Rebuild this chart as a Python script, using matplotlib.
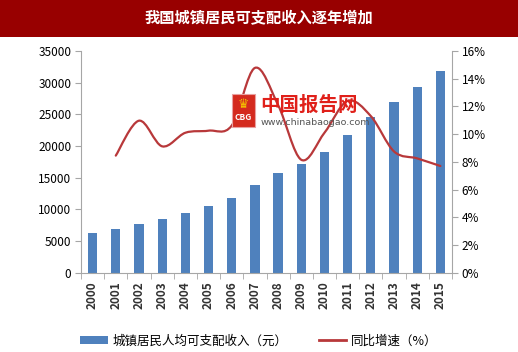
import matplotlib
matplotlib.use("Agg")
import matplotlib.pyplot as plt
from matplotlib.path import Path
from matplotlib.patches import PathPatch, Rectangle, Patch
from matplotlib.lines import Line2D
import numpy as np

plt.rcParams['font.family'] = ['Noto Sans CJK SC', 'DejaVu Sans']

title = "我国城镇居民可支配收入逐年增加"
years = ["2000", "2001", "2002", "2003", "2004", "2005", "2006", "2007",
         "2008", "2009", "2010", "2011", "2012", "2013", "2014", "2015"]
income = [6280, 6860, 7703, 8472, 9422, 10493, 11759, 13786,
          15781, 17175, 19109, 21810, 24565, 26955, 29381, 31790]
growth_years = years[1:]
growth = [8.45, 10.97, 9.12, 10.1, 10.25, 10.62, 14.78,
          12.1, 8.15, 10.1, 12.4, 11.3, 8.75, 8.25, 7.7]
bar_label = "城镇居民人均可支配收入（元）"
line_label = "同比增速（%）"

BLUE = "#4F81BD"
RED = "#B8383A"
GREY = "#A6A6A6"

fig = plt.figure(figsize=(5.18, 3.52), dpi=100)
# title bar
fig.patches.append(Rectangle((0, 1 - 37 / 352), 1, 37 / 352, transform=fig.transFigure,
                             facecolor="#980000", edgecolor="none", zorder=0))
fig.text(0.5, 1 - 18.5 / 352, title, color="white", fontsize=11, fontweight="bold",
         ha="center", va="center")

ax = fig.add_axes([81 / 518, 1 - 272.7 / 352, (452 - 81) / 518, (272.7 - 51) / 352])
x = np.arange(len(years))
ax.bar(x, income, width=0.4, color=BLUE, zorder=2)
ax.set_xlim(-0.5, len(years) - 0.5)
ax.set_ylim(0, 35000)
ax.set_yticks(np.arange(0, 35001, 5000))
ax.set_yticklabels([str(v) for v in range(0, 35001, 5000)], fontsize=8.5)
ax.set_xticks(x)
ax.set_xticklabels(years, rotation=90, fontsize=8.5, fontweight="bold", color="#333333")
ax.set_xticks(np.arange(-0.5, len(years), 1), minor=True)
ax.tick_params(axis="x", which="major", length=0, pad=6)
ax.tick_params(axis="x", which="minor", length=4, color=GREY, direction="out")
ax.tick_params(axis="y", length=4, color=GREY, direction="out", pad=3)
for s in ["top", "right"]:
    ax.spines[s].set_visible(False)
for s in ["left", "bottom"]:
    ax.spines[s].set_color(GREY)

ax2 = ax.twinx()
ax2.set_ylim(0, 16)
ax2.set_yticks(np.arange(0, 17, 2))
ax2.set_yticklabels([f"{v}%" for v in range(0, 17, 2)], fontsize=8.5)
ax2.tick_params(axis="y", length=4, color=GREY, direction="out", pad=3)
for s in ["top", "left", "bottom"]:
    ax2.spines[s].set_visible(False)
ax2.spines["right"].set_color(GREY)

# smoothed line (Excel-style Bezier through data points)
gx = np.array([years.index(y) for y in growth_years], dtype=float)
gy = np.array(growth, dtype=float)
pts = np.column_stack([gx, gy])
n = len(pts)
verts = [tuple(pts[0])]
codes = [Path.MOVETO]
for i in range(n - 1):
    p0 = pts[i - 1] if i > 0 else pts[i]
    p1 = pts[i]
    p2 = pts[i + 1]
    p3 = pts[i + 2] if i + 2 < n else pts[i + 1]
    c1 = p1 + (p2 - p0) / 6.0
    c2 = p2 - (p3 - p1) / 6.0
    verts += [tuple(c1), tuple(c2), tuple(p2)]
    codes += [Path.CURVE4] * 3
ax2.add_patch(PathPatch(Path(verts, codes), facecolor="none", edgecolor=RED,
                        linewidth=1.6, zorder=3, capstyle="round"))

# watermark
fig.patches.append(Rectangle((232 / 518, 1 - 127 / 352), 23 / 518, 33 / 352,
                             transform=fig.transFigure, facecolor="#D42A1E",
                             edgecolor="#E8A0A0", linewidth=0.8, zorder=5))
fig.text(243.5 / 518, 1 - 118 / 352, "CBG", color="white", fontsize=6, fontweight="bold",
         ha="center", va="center", zorder=6)
fig.text(243.5 / 518, 1 - 104 / 352, "♛", color="#F5C400", fontsize=9,
         ha="center", va="center", zorder=6, family=["DejaVu Sans"])
fig.text(260 / 518, 1 - 105 / 352, "中国报告网", color="#E0201A", fontsize=14,
         fontweight="bold", ha="left", va="center", zorder=6)
fig.text(261 / 518, 1 - 122 / 352, "www.chinabaogao.com", color="#555555", fontsize=6.8,
         ha="left", va="center", zorder=6, family=["DejaVu Sans"])

handles = [Patch(facecolor=BLUE, edgecolor="none"),
           Line2D([0], [0], color=RED, linewidth=2)]
fig.legend(handles, [bar_label, line_label], loc="center", bbox_to_anchor=(0.5, 1 - 341 / 352),
           ncol=2, frameon=False, fontsize=9, handlelength=2.2, handleheight=0.6,
           columnspacing=2.5, handletextpad=0.4)

fig.savefig("out.png", dpi=100, facecolor="white")
